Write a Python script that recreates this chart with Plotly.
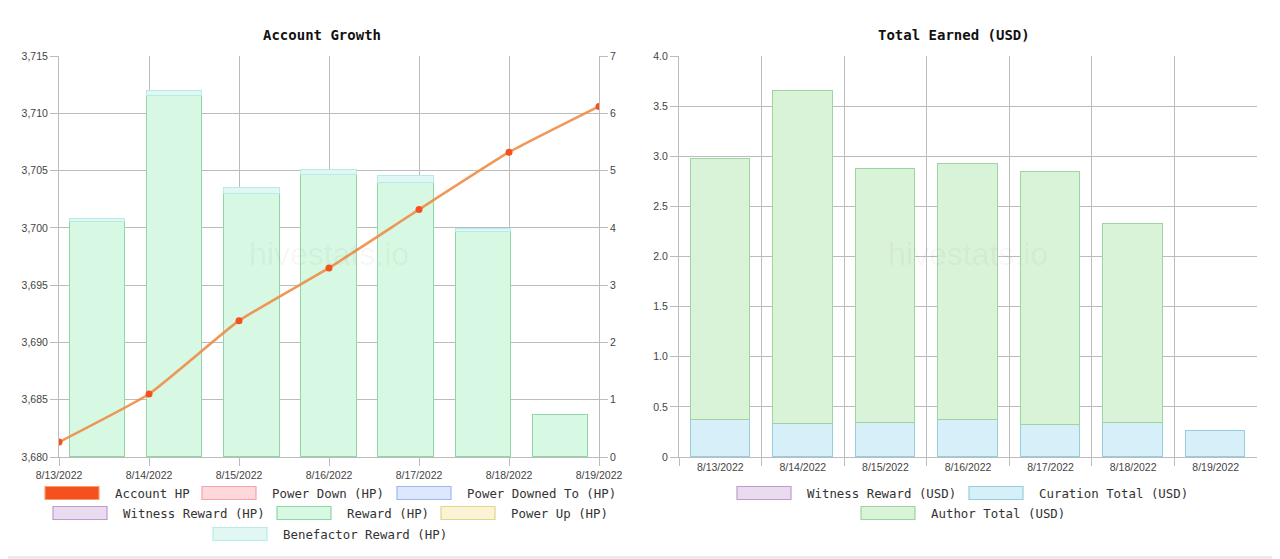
import plotly.graph_objects as go

# ---- data ----
dates = ["8/13/2022", "8/14/2022", "8/15/2022", "8/16/2022",
         "8/17/2022", "8/18/2022", "8/19/2022"]

account_hp = [3681.3, 3685.5, 3691.9, 3696.5, 3701.6, 3706.6, 3710.6]
power_down_hp = [None] * 7
power_downed_to_hp = [None] * 7
witness_reward_hp = [None] * 7
reward_hp = [4.10, 6.30, 4.59, 4.92, 4.79, 3.92, 0.74]
power_up_hp = [None] * 7
benefactor_reward_hp = [0.05, 0.09, 0.10, 0.09, 0.11, 0.06, None]

witness_reward_usd = [None] * 7
curation_total_usd = [0.37, 0.33, 0.34, 0.37, 0.32, 0.34, 0.26]
author_total_usd = [2.60, 3.32, 2.53, 2.55, 2.52, 1.98, None]

left_y_ticks = [3680, 3685, 3690, 3695, 3700, 3705, 3710, 3715]
right_y_ticks = [0, 0.5, 1.0, 1.5, 2.0, 2.5, 3.0, 3.5, 4.0]
right_y_labels = ["0", "0.5", "1.0", "1.5", "2.0", "2.5", "3.0", "3.5", "4.0"]

# ---- style ----
# the page body has an 8px margin, so the figure fills the rest of the window
OFF = 8
W, H = 1280 - OFF, 559 - OFF
GRID = "#bcbcbc"
TICK_FONT = dict(family="Liberation Sans", size=10.5, color="#444")
MONO = "DejaVu Sans Mono"

COLORS = {
    "Account HP": ("#f4511e", "#f3a06a"),
    "Power Down (HP)": ("#ffd8dc", "#f4a3ab"),
    "Power Downed To (HP)": ("#dde8ff", "#9db9f2"),
    "Witness Reward (HP)": ("#eadcef", "#c39ad0"),
    "Reward (HP)": ("#d7f8e3", "#93d6a6"),
    "Power Up (HP)": ("#fbf3d6", "#e6d48c"),
    "Benefactor Reward (HP)": ("#e0f7f4", "#b6ebe7"),
    "Witness Reward (USD)": ("#eadcef", "#c39ad0"),
    "Curation Total (USD)": ("#d7eff9", "#96cfdc"),
    "Author Total (USD)": ("#d9f3d9", "#9ed49e"),
}


def fx(px):
    return (px - OFF) / W


def fy(py):
    return 1 - (py - OFF) / H


fig = go.Figure()

# left chart bars (right axis 0-7)
left_bars = [
    ("Power Down (HP)", power_down_hp),
    ("Power Downed To (HP)", power_downed_to_hp),
    ("Witness Reward (HP)", witness_reward_hp),
    ("Reward (HP)", reward_hp),
    ("Power Up (HP)", power_up_hp),
    ("Benefactor Reward (HP)", benefactor_reward_hp),
]
for name, vals in left_bars:
    fill, border = COLORS[name]
    fig.add_trace(go.Bar(
        x=dates, y=vals, name=name, xaxis="x", yaxis="y",
        width=0.72, marker=dict(color=fill, line=dict(color=border, width=1)),
    ))

# account HP line (left axis)
fig.add_trace(go.Scatter(
    x=dates, y=account_hp, name="Account HP", xaxis="x2", yaxis="y2",
    mode="lines+markers",
    line=dict(color="rgba(240,140,70,0.9)", width=2.6, shape="spline", smoothing=0.4),
    marker=dict(color="#f4511e", size=7),
))

# right chart bars
right_bars = [
    ("Witness Reward (USD)", witness_reward_usd),
    ("Curation Total (USD)", curation_total_usd),
    ("Author Total (USD)", author_total_usd),
]
for name, vals in right_bars:
    fill, border = COLORS[name]
    fig.add_trace(go.Bar(
        x=dates, y=vals, name=name, xaxis="x3", yaxis="y3",
        width=0.72, marker=dict(color=fill, line=dict(color=border, width=1)),
    ))

left_dom = [fx(59), fx(599)]
right_dom = [fx(679), fx(1257)]
y_dom = [fy(457), fy(56)]

axis_common = dict(
    linecolor=GRID, linewidth=1, gridcolor=GRID, gridwidth=1,
    ticks="outside", ticklen=8, tickcolor=GRID, tickfont=TICK_FONT,
    zeroline=False, automargin=False,
)
axis_nogrid = {k: v for k, v in axis_common.items() if k not in ("gridcolor", "gridwidth")}

fig.update_layout(
    width=W, height=H,
    margin=dict(l=0, r=0, t=0, b=0, pad=0),
    paper_bgcolor="#ebebeb",
    plot_bgcolor="rgba(0,0,0,0)",
    barmode="stack",
    bargap=0,
    showlegend=False,
    # bars of the left chart
    xaxis=dict(domain=left_dom, type="category", range=[-0.5, 6.5], visible=False,
               automargin=False),
    yaxis=dict(domain=y_dom, anchor="x", side="right", range=[0, 7], dtick=1,
               showgrid=False, showline=True, **axis_nogrid),
    # line of the left chart
    xaxis2=dict(overlaying="x", anchor="y2", type="category", range=[0, 6],
                showline=True, showgrid=True, **axis_common),
    yaxis2=dict(overlaying="y", anchor="x2", side="left", range=[3680, 3715],
                tickvals=left_y_ticks, tickformat=",", showline=True, showgrid=True,
                **axis_common),
    # right chart
    xaxis3=dict(domain=right_dom, anchor="y3", type="category", range=[-0.5, 6.5],
                tickson="boundaries", showline=True, showgrid=True, **axis_common),
    yaxis3=dict(domain=y_dom, anchor="x3", range=[0, 4.0], tickvals=right_y_ticks,
                ticktext=right_y_labels, showline=True, showgrid=True, **axis_common),
)

shapes = [dict(type="rect", xref="paper", yref="paper", x0=0, x1=fx(1277),
               y0=fy(556), y1=1, fillcolor="white", line=dict(width=0), layer="below")]
annotations = []

# titles
for text, cx in [("Account Growth", 322), ("Total Earned (USD)", 954)]:
    annotations.append(dict(
        text="<b>" + text + "</b>", x=fx(cx), y=fy(35), xref="paper", yref="paper",
        showarrow=False, xanchor="center", yanchor="middle",
        font=dict(family=MONO, size=14, color="#111"),
    ))

# watermarks
for cx in [(59 + 599) / 2, (679 + 1257) / 2]:
    annotations.append(dict(
        text="hivestats.io", x=fx(cx), y=fy(254), xref="paper", yref="paper",
        showarrow=False, xanchor="center", yanchor="middle",
        font=dict(family="Liberation Sans", size=32, color="rgba(0,0,0,0.045)"),
    ))

# legends drawn as boxes + text
legend_items = [
    ("Account HP", 45, 493),
    ("Power Down (HP)", 202, 493),
    ("Power Downed To (HP)", 397, 493),
    ("Witness Reward (HP)", 53, 513),
    ("Reward (HP)", 277, 513),
    ("Power Up (HP)", 441, 513),
    ("Benefactor Reward (HP)", 213, 534),
    ("Witness Reward (USD)", 737, 493),
    ("Curation Total (USD)", 969, 493),
    ("Author Total (USD)", 861, 513),
]
for name, bx, ry in legend_items:
    fill, border = COLORS[name]
    shapes.append(dict(
        type="rect", xref="paper", yref="paper",
        x0=fx(bx), x1=fx(bx + 54), y0=fy(ry + 6.5), y1=fy(ry - 6.5),
        fillcolor=fill, line=dict(color=border, width=1.2),
    ))
    annotations.append(dict(
        text=name, x=fx(bx + 68), y=fy(ry), xref="paper", yref="paper",
        showarrow=False, xanchor="left", yanchor="middle",
        font=dict(family=MONO, size=12.4, color="#333"),
    ))

fig.update_layout(shapes=shapes, annotations=annotations)

fig.write_html("out.html")
